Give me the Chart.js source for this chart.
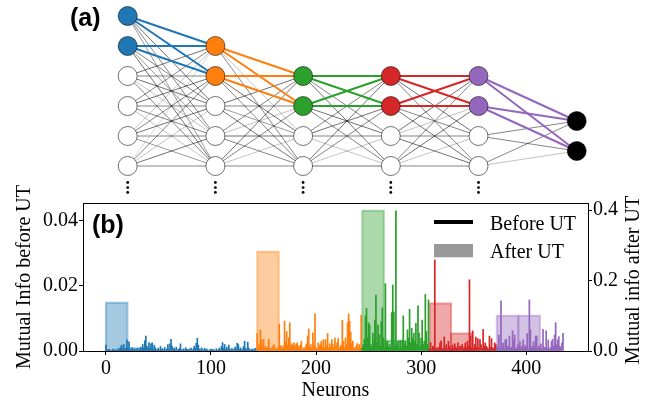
<!DOCTYPE html>
<html><head><meta charset="utf-8">
<script src="https://cdn.jsdelivr.net/npm/chart.js@4"></script>
<style>
html,body{margin:0;padding:0;background:#fff;}
#wrap{position:relative;width:659px;height:402px;overflow:hidden;background:#fff;}
canvas{position:absolute;left:0;}
#ca{top:0;}
#cb{top:180px;}
</style></head><body>
<div id="wrap"><canvas id="ca" width="659" height="200"></canvas><canvas id="cb" width="659" height="222"></canvas></div>
<script>
// ---------------- DATA ----------------
const layerColors = ['#1f77b4','#ff7f0e','#2ca02c','#d62728','#9467bd'];
const layerStart = [0,144,244,308,372];

const blueMI = [0.0018,0.0004,0.0003,0.0005,0.0002,0,0.0003,0.0006,0.0002,0.0004,
0.0003,0.0002,0.0008,0.0005,0.0012,0.0018,0.0006,0.0020,0.0004,0.0009,
0.0034,0.0008,0.0028,0.0005,0.0003,0.0010,0.0002,0.0006,0.0004,0.0003,
0.0008,0.0002,0.0005,0.0012,0.0006,0.0020,0.0009,0.0032,0.0046,0.0014,
0.0005,0.0026,0.0008,0.0022,0.0025,0.0006,0.0018,0.0010,0.0003,0.0005,
0.0009,0.0002,0.0014,0.0004,0.0007,0.0003,0.0011,0.0002,0.0006,0.0020,
0.0005,0.0022,0.0036,0.0014,0.0006,0.0009,0.0003,0.0012,0.0002,0.0005,
0.0008,0.0022,0.0004,0.0003,0.0007,0.0002,0.0010,0.0005,0.0003,0.0006,
0.0004,0.0009,0.0002,0.0006,0.0015,0.0008,0.0024,0.0039,0.0018,0.0006,
0.0003,0.0010,0.0005,0.0002,0.0008,0.0003,0.0006,0.0002,0,0.0004,
0.0006,0.0002,0.0005,0.0003,0,0.0007,0.0002,0.0004,0.0009,0.0003,
0.0014,0.0026,0.0008,0.0020,0.0005,0.0012,0.0004,0.0018,0.0006,0.0003,
0.0008,0.0002,0.0005,0.0012,0.0006,0.0024,0.0020,0.0004,0.0010,0.0003,
0.0006,0.0014,0.0030,0.0008,0.0003,0.0027,0.0009,0.0004,0.0002,0.0006,
0.0005,0.0003,0.0008,0.0004];

const orangeMI = [0.0054,0.0012,0.0020,0.0065,0.0034,0.0015,0.0036,0.0010,0.0014,0.0008,
0.0012,0.0036,0.0006,0.0009,0.0004,0.0014,0.0020,0.0005,0.0010,0.0003,
0.0008,0.0083,0.0016,0.0006,0.0012,0.0010,0.0092,0.0028,0.0060,0.0018,
0.0040,0.0087,0.0010,0.0022,0.0014,0.0025,0.0008,0.0020,0.0025,0.0012,
0.0006,0.0018,0.0030,0.0004,0.0010,0.0008,0.0014,0.0022,0.0046,0.0068,
0.0012,0.0020,0.0008,0.0056,0.0016,0.0114,0.0010,0.0006,0.0025,0.0014,
0.0020,0.0030,0.0012,0.0035,0.0010,0.0035,0.0018,0.0054,0.0008,0.0022,
0.0012,0.0035,0.0020,0.0010,0.0040,0.0016,0.0025,0.0038,0.0006,0.0014,
0.0018,0.0095,0.0030,0.0010,0.0040,0.0020,0.0087,0.0114,0.0092,0.0058,
0.0022,0.0030,0.0010,0.0008,0.0014,0.0023,0.0006,0.0020,0.0010,0.0110];

const greenMI = [0.0010,0.0020,0.0036,0.0108,0.0131,0.0040,0.0087,0.0080,0.0020,0.0012,
0.0055,0.0030,0.0095,0.0172,0.0025,0.0080,0.0050,0.0015,0.0090,0.0133,
0.0040,0.0010,0.0207,0.0025,0.0030,0.0012,0.0020,0.0010,0.0118,0.0203,
0.0120,0.0015,0.0431,0.0020,0.0030,0.0010,0.0032,0.0012,0.0032,0.0108,
0.0020,0.0030,0.0015,0.0065,0.0040,0.0128,0.0025,0.0070,0.0040,0.0055,
0.0030,0.0085,0.0020,0.0139,0.0055,0.0015,0.0040,0.0095,0.0020,0.0030,
0.0174,0.0060,0.0020,0.0157];

const redMI = [0.0008,0.0026,0.0005,0.0015,0.0010,0.0280,0.0006,0.0010,0.0004,0.0012,
0.0025,0.0031,0.0008,0.0005,0.0043,0.0012,0.0020,0.0006,0.0030,0.0015,
0.0004,0.0010,0.0018,0.0006,0.0022,0.0012,0.0008,0.0025,0.0005,0.0015,
0.0010,0.0020,0.0006,0.0012,0.0025,0.0008,0.0030,0.0015,0.0219,0.0046,
0.0010,0.0062,0.0008,0.0020,0.0043,0.0012,0.0038,0.0010,0.0035,0.0020,
0.0008,0.0067,0.0015,0.0025,0.0015,0.0010,0.0006,0.0046,0.0012,0.0038,
0.0010,0.0008,0.0025,0.0020];

const purpleMI = [0.0010,0.0015,0.0049,0.0008,0.0154,0.0012,0.0024,0.0006,0.0034,0.0036,
0.0010,0.0015,0.0046,0.0008,0.0012,0.0062,0.0034,0.0049,0.0010,0.0006,
0.0020,0.0012,0.0029,0.0008,0.0015,0.0034,0.0010,0.0018,0.0012,0.0054,
0.0006,0.0157,0.0065,0.0010,0.0015,0.0029,0.0012,0.0046,0.0046,0.0008,
0.0015,0.0010,0.0022,0.0008,0.0067,0.0012,0.0010,0.0062,0.0008,0.0034,
0.0006,0.0010,0.0029,0.0036,0.0015,0.0049,0.0087,0.0020,0.0034,0.0044,
0.0015,0.0010,0.0025,0.0054];

const miBefore = [blueMI, orangeMI, greenMI, redMI, purpleMI];

// "After UT" group bars (start neuron, height on right axis, layer)
const afterStart  = [0, 20.5, 144, 164.5, 244, 264.5, 308, 328.5, 372, 392.5];
const afterHeight = [0.137, 0.008, 0.282, 0.014, 0.398, 0.029, 0.135, 0.050, 0.100, 0.100];
const afterLayer  = [0, 0, 1, 1, 2, 2, 3, 3, 4, 4];
const afterWidth  = 20.5;

const xTicks = [0, 100, 200, 300, 400];
const leftTicks = [0, 0.02, 0.04];
const rightTicks = [0, 0.2, 0.4];

// Network diagram (panel a)
const colX = [0, 1, 2, 3, 4, 5.12];
const colCount = [6, 5, 4, 4, 4, 2];
const colFirstRow = [0, 1, 2, 2, 2, 3.5];
const nodeColors = ['#1f77b4','#ff7f0e','#2ca02c','#d62728','#9467bd','#000000'];
const highlighted = 2;
const dotRows = [5.55, 5.72, 5.88];
const w01 = [[1,1,.7,.6,.5],[1,1,.6,.5,.7],[.7,.6,.7,.3,.6],[.6,.7,.6,.6,.3],[.3,.6,.7,.6,.5],[.2,.6,.3,.7,.6]];
const w12 = [[1,1,.3,.6],[1,1,.7,.6],[.7,.6,.5,.7],[.6,.3,.7,.6],[.7,.6,.3,.6]];
const w23 = [[1,1,.6,.7],[1,1,.7,.6],[.6,.7,.6,.3],[.7,.6,.3,.7]];
const w34 = [[1,1,.7,.6],[1,1,.6,.7],[.7,.3,.6,.7],[.6,.7,.3,.6]];
const w45 = [[1,1],[1,1],[.6,.6],[.6,.3]];
const edgeWeights = [w01, w12, w23, w34, w45];

// ---------------- HELPERS ----------------
function rgba(hex, a){
  const n = parseInt(hex.slice(1),16);
  return `rgba(${(n>>16)&255},${(n>>8)&255},${n&255},${a})`;
}
const serif = 'Liberation Serif, Times New Roman, serif';
const sans = 'Liberation Sans, Arial, sans-serif';

// ---------------- PANEL A ----------------
const dsA = [];
const nodeY = (c,k) => colFirstRow[c] + k;
for (let c = 0; c < 5; c++) {
  const W = edgeWeights[c];
  for (let i = 0; i < colCount[c]; i++) {
    for (let j = 0; j < colCount[c+1]; j++) {
      const hl = i < highlighted && j < highlighted;
      dsA.push({
        data: [{x: colX[c], y: nodeY(c,i)}, {x: colX[c+1], y: nodeY(c+1,j)}],
        showLine: true, fill: false, pointRadius: 0,
        borderColor: hl ? nodeColors[c] : `rgba(0,0,0,${(W[i][j]*0.8).toFixed(3)})`,
        borderWidth: hl ? 2 : 1,
        order: hl ? 1 : 2
      });
    }
  }
}
for (let c = 0; c < 6; c++) {
  const pts = [], fills = [];
  for (let k = 0; k < colCount[c]; k++) {
    pts.push({x: colX[c], y: nodeY(c,k)});
    fills.push(k < highlighted ? nodeColors[c] : '#ffffff');
  }
  dsA.push({data: pts, showLine: false, pointRadius: 9.5, pointBackgroundColor: fills,
    pointBorderColor: 'rgba(0,0,0,0.55)', pointBorderWidth: 1, order: 0});
  if (c < 5) {
    dsA.push({data: dotRows.map(r => ({x: colX[c], y: r})), showLine: false, pointRadius: 1.4,
      pointBackgroundColor: '#000', pointBorderWidth: 0, order: 0});
  }
}
const labelA = {
  id: 'labelA',
  afterDraw(chart) {
    const ctx = chart.ctx;
    ctx.save();
    ctx.fillStyle = '#000';
    ctx.font = `bold 25px ${sans}`;
    ctx.textAlign = 'left'; ctx.textBaseline = 'alphabetic';
    ctx.fillText('(a)', 70, 25.5);
    ctx.restore();
  }
};
new Chart(document.getElementById('ca'), {
  type: 'scatter',
  data: {datasets: dsA},
  options: {
    responsive: false, animation: false, events: [],
    layout: {padding: 0, autoPadding: false},
    plugins: {legend: {display: false}, tooltip: {enabled: false}},
    scales: {
      x: {type: 'linear', display: false, min: -1.456, max: 6.058},
      y: {type: 'linear', display: false, min: -0.533, max: 6.133, reverse: true}
    }
  },
  plugins: [labelA]
});

// ---------------- PANEL B ----------------
const barData = [], barColors = [];
miBefore.forEach((arr, L) => arr.forEach((v, i) => {
  barData.push({x: layerStart[L] + i, y: v});
  barColors.push(layerColors[L]);
}));
const dsB = [{
  type: 'bar', data: barData, backgroundColor: barColors, borderWidth: 0,
  barPercentage: 1, categoryPercentage: 1, yAxisID: 'y', order: 0
}];
afterStart.forEach((s, k) => {
  const c = rgba(layerColors[afterLayer[k]], 0.4);
  const h = afterHeight[k];
  dsB.push({
    type: 'line', yAxisID: 'y2', order: 1,
    data: [{x: s, y: 0}, {x: s, y: h}, {x: s + afterWidth, y: h}, {x: s + afterWidth, y: 0}],
    fill: 'origin', backgroundColor: c, borderColor: c, borderWidth: 2,
    pointRadius: 0, tension: 0
  });
});

const tickFont = {family: serif, size: 20};
const decorB = {
  id: 'decorB',
  afterDraw(chart) {
    const {ctx, chartArea: a} = chart;
    ctx.save();
    // frame
    ctx.strokeStyle = '#000'; ctx.lineWidth = 1;
    const al = v => Math.round(v - 0.5) + 0.5;
    ctx.strokeRect(al(a.left), al(a.top), al(a.right) - al(a.left), al(a.bottom) - al(a.top));
    // (b)
    ctx.fillStyle = '#000';
    ctx.font = `bold 25px ${sans}`;
    ctx.textAlign = 'left'; ctx.textBaseline = 'alphabetic';
    ctx.fillText('(b)', a.left + 9, a.top + 30);
    // legend
    ctx.strokeStyle = '#000'; ctx.lineWidth = 4; ctx.lineCap = 'butt';
    ctx.beginPath(); ctx.moveTo(a.right - 154, a.top + 19); ctx.lineTo(a.right - 115, a.top + 19); ctx.stroke();
    ctx.fillStyle = 'rgba(0,0,0,0.4)';
    ctx.fillRect(a.right - 154, a.top + 41, 39, 13.3);
    ctx.fillStyle = '#000';
    ctx.font = `20px ${serif}`;
    ctx.fillText('Before UT', a.right - 98, a.top + 27);
    ctx.fillText('After UT', a.right - 98, a.top + 55);
    // right title
    ctx.translate(633.5, (a.top + a.bottom) / 2 + 3);
    ctx.rotate(-Math.PI / 2);
    ctx.textAlign = 'center'; ctx.textBaseline = 'middle';
    ctx.fillText('Mutual info after UT', 0, 0);
    ctx.restore();
  }
};

new Chart(document.getElementById('cb'), {
  type: 'bar',
  data: {datasets: dsB},
  options: {
    responsive: false, animation: false, events: [],
    layout: {padding: {top: 23, left: 0, right: 0, bottom: 0}, autoPadding: false},
    plugins: {legend: {display: false}, tooltip: {enabled: false}},
    scales: {
      x: {
        type: 'linear', position: 'bottom', min: -21.8, max: 458.8, offset: false,
        grid: {offset: false, drawOnChartArea: false, drawTicks: true, tickLength: 4, color: '#000'},
        border: {display: true, color: '#000', width: 1},
        ticks: {font: tickFont, color: '#000', padding: 2, maxRotation: 0, autoSkip: false},
        afterBuildTicks: s => { s.ticks = xTicks.map(v => ({value: v})); },
        afterFit: s => { s.height = 51; },
        title: {display: true, text: 'Neurons', font: tickFont, color: '#000', padding: {top: 0, bottom: -1}}
      },
      y: {
        type: 'linear', position: 'left', min: 0, max: 0.0455,
        grid: {drawOnChartArea: false, drawTicks: true, tickLength: 4, color: '#000'},
        border: {display: true, color: '#000', width: 1},
        ticks: {font: tickFont, color: '#000', padding: 1, callback: v => v.toFixed(2)},
        afterBuildTicks: s => { s.ticks = leftTicks.map(v => ({value: v})); },
        afterFit: s => { s.width = 83; },
        title: {display: true, text: 'Mutual Info before UT', font: tickFont, color: '#000', padding: {top: 13, bottom: 0}}
      },
      y2: {
        type: 'linear', position: 'right', min: 0, max: 0.42,
        grid: {drawOnChartArea: false, drawTicks: true, tickLength: 4, color: '#000'},
        border: {display: true, color: '#000', width: 1},
        ticks: {font: tickFont, color: '#000', padding: 1, callback: v => v.toFixed(1)},
        afterBuildTicks: s => { s.ticks = rightTicks.map(v => ({value: v})); },
        afterFit: s => { s.width = 71; },
        title: {display: false}
      }
    }
  },
  plugins: [decorB]
});
</script>
</body></html>
